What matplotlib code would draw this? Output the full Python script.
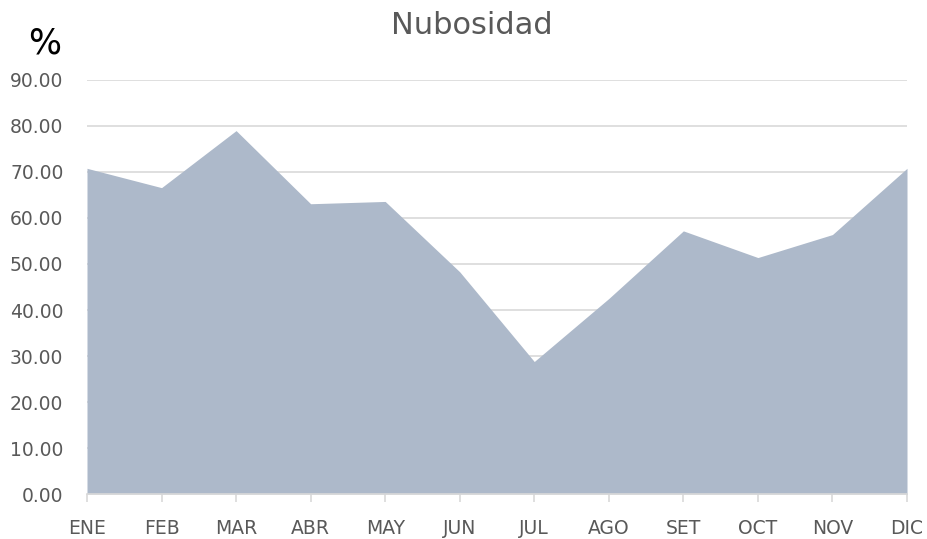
import numpy as np
import matplotlib.pyplot as plt

meses = ['ENE', 'FEB', 'MAR', 'ABR', 'MAY', 'JUN', 'JUL', 'AGO', 'SET', 'OCT', 'NOV', 'DIC']
nubosidad = [70.8, 66.6, 79.0, 63.1, 63.6, 48.3, 28.8, 42.5, 57.2, 51.4, 56.4, 70.8]
y_ticks = np.arange(0, 100, 10)

fig = plt.figure(figsize=(9.28, 5.39), dpi=100)
ax = fig.add_axes([87 / 928, 1 - 494 / 539, 820 / 928, 414 / 539])

x = np.arange(len(meses))
ax.fill_between(x, nubosidad, 0, color='#ADB9CA', linewidth=0, zorder=2)

ax.set_xlim(0, len(meses) - 1)
ax.set_ylim(0, 90)
ax.set_yticks(y_ticks)
ax.set_yticklabels([f'{v:.2f}' for v in y_ticks])
ax.set_xticks(x)
ax.set_xticklabels(meses)

ax.grid(axis='y', color='#D9D9D9', linewidth=1.2, zorder=0)
for s in ['top', 'right', 'left']:
    ax.spines[s].set_visible(False)
ax.spines['bottom'].set_color('#D9D9D9')
ax.spines['bottom'].set_linewidth(1.2)
ax.spines['bottom'].set_zorder(3)

ax.tick_params(axis='y', length=0, pad=17, labelsize=13.5, labelcolor='#595959')
ax.tick_params(axis='x', length=6, width=1.2, color='#D9D9D9', pad=12,
               labelsize=13.5, labelcolor='#595959')

fig.text(472 / 928, 1 - 25 / 539, 'Nubosidad', ha='center', va='center',
         fontsize=22, color='#595959')
fig.text(45 / 928, 1 - 43 / 539, '%', ha='center', va='center',
         fontsize=25, color='black')

fig.savefig('out.png', dpi=100)
